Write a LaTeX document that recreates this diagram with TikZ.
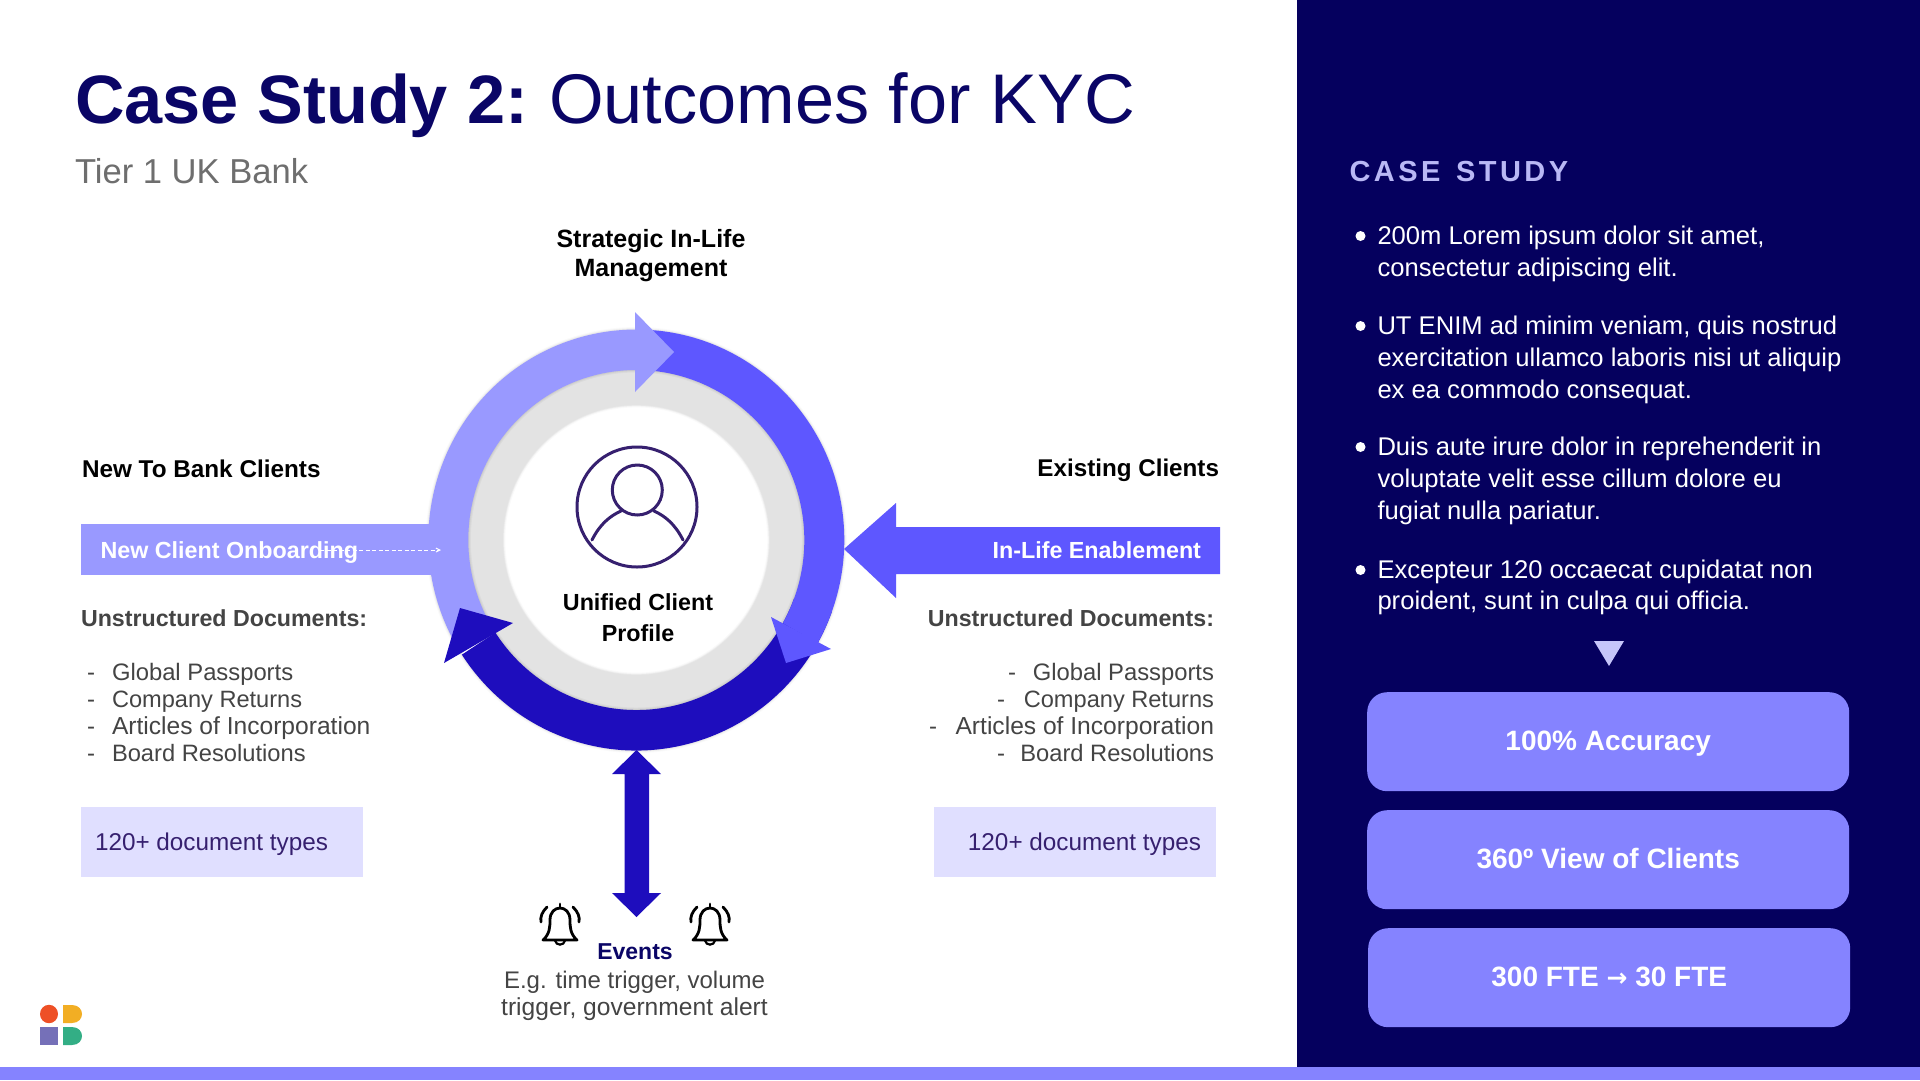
\documentclass[tikz,border=0pt]{standalone}
\usepackage{fontspec}
\setmainfont{Liberation Sans}
\newfontfamily\arrowfont{DejaVu Sans}
\usetikzlibrary{arrows.meta,calc}
\definecolor{navy}{HTML}{05005E}
\definecolor{titlec}{HTML}{0A0566}
\definecolor{lightp}{HTML}{9999FF}
\definecolor{midp}{HTML}{5E57FF}
\definecolor{darkp}{HTML}{1E0DBD}
\definecolor{boxp}{HTML}{8583FF}
\definecolor{pale}{HTML}{E0DFFF}
\definecolor{greyt}{HTML}{444444}
\definecolor{subt}{HTML}{6E6E6E}
\definecolor{icon}{HTML}{36206F}
\definecolor{ringg}{HTML}{E3E3E3}
\definecolor{headc}{HTML}{B9B8F5}
\definecolor{tri}{HTML}{C6C5FA}
\definecolor{logor}{HTML}{EE5026}
\definecolor{logoy}{HTML}{F2AE24}
\definecolor{logop}{HTML}{7570B8}
\definecolor{logog}{HTML}{33AE85}
\tikzset{
  x=1pt,y=-1pt,
  lbl/.style={inner sep=0pt,outer sep=0pt,anchor=base west,font=\fontsize{#1}{#1}\selectfont},
  lblr/.style={inner sep=0pt,outer sep=0pt,anchor=base east,font=\fontsize{#1}{#1}\selectfont},
  lblc/.style={inner sep=0pt,outer sep=0pt,anchor=base,font=\fontsize{#1}{#1}\selectfont},
  blbl/.style={inner sep=0pt,outer sep=0pt,anchor=base west,font=\fontsize{#1}{#1}\selectfont\bfseries},
  blblr/.style={inner sep=0pt,outer sep=0pt,anchor=base east,font=\fontsize{#1}{#1}\selectfont\bfseries},
  blblc/.style={inner sep=0pt,outer sep=0pt,anchor=base,font=\fontsize{#1}{#1}\selectfont\bfseries},
  kpi/.style={fill=boxp,rounded corners=20pt,minimum width=482pt,minimum height=99pt,inner sep=0pt,text=white,text height=17pt,text depth=0pt,font=\fontsize{28}{28}\selectfont\bfseries},
  docbox/.style={fill=pale,inner sep=0pt,minimum width=282pt,minimum height=70pt},
  bellline/.style={line width=2.8pt,line cap=round,line join=round,draw=black},
  iconline/.style={line width=3pt,draw=icon,line cap=round}
}
% ring segment in the ring scope: outer radius 208, inner radius 168
\newcommand{\ringseg}[3]{\fill[#3] (#1:208) arc[start angle=#1,end angle=#2,radius=208] -- (#2:168) arc[start angle=#2,end angle=#1,radius=168] -- cycle;}
\newcommand{\bellicon}[1]{%
\begin{scope}[shift={(#1,0)}]
 \draw[bellline] (-17,940) .. controls (-10,934) and (-10,926) .. (-10,920) .. controls (-10,912) and (-5,908) .. (0,908) .. controls (5,908) and (10,912) .. (10,920) .. controls (10,926) and (10,934) .. (17,940) -- cycle;
 \draw[bellline] (0,908) -- (0,904);
 \draw[line width=2.2pt,line cap=round] (-5,940.5) .. controls (-4,946) and (4,946) .. (5,940.5);
 \draw[bellline] (-13,907) .. controls (-18,912) and (-20,917) .. (-19,922);
 \draw[bellline] (13,907) .. controls (18,912) and (20,917) .. (19,922);
\end{scope}}
\begin{document}
\begin{tikzpicture}
\useasboundingbox (0,0) rectangle (1920,1080);
\fill[white] (0,0) rectangle (1920,1080);
\fill[navy] (1297,0) rectangle (1920,1080);
\fill[boxp] (0,1067) rectangle (1920,1080);
% title
\node[lbl=70.3,text=titlec] (title) at (75,123) {{\fontsize{68.5}{70}\selectfont\bfseries Case Study 2:} \hspace{-5pt}Outcomes for KYC};
\node[lbl=34.6,text=subt] (sub) at (75,183) {Tier 1 UK Bank};
\node[text=black,align=center,inner sep=0pt,font=\fontsize{25}{29}\selectfont\bfseries,anchor=north] (strat) at (651,229.5) {Strategic In-Life\\Management};
% ring
\begin{scope}[shift={(636.3,540)},yscale=1.012]
\foreach \w/\o in {5/.02,3/.03,1.5/.04}{
 \draw[black,opacity=\o,line width=\w pt] (0,0) circle[radius=208];
 \draw[black,opacity=\o,line width=\w pt] (0,0) circle[radius=133.5];
}
\fill[ringg,even odd rule] (0,0) circle[radius=170] circle[radius=133.5];
\foreach \w/\o in {5/.03,3/.03,1.5/.04}{
 \draw[black,opacity=\o,line width=\w pt] (0,0) circle[radius=168];
}
\ringseg{20}{147}{darkp}
\ringseg{-90}{29.3}{midp}
\end{scope}
\fill[midp] (771,617) -- (831,649) -- (786,663) -- cycle;
\begin{scope}[shift={(636.3,540)},yscale=1.012]
\ringseg{147.5}{270}{lightp}
\end{scope}
\fill[lightp] (635,312) -- (674,352) -- (635,392) -- cycle;
\fill[darkp] (444,663) -- (460,608) -- (513,623) -- cycle;
% side bars
\fill[lightp] (81,524) rectangle (440,575);
\fill[midp] (844,549) -- (896,503) -- (896,527) -- (1220,527) -- (1220,574) -- (896,574) -- (896,598) -- cycle;
% double arrow
\fill[darkp] (636.5,750) -- (661,774) -- (649,774) -- (649,893) -- (661,893) -- (636.5,917) -- (612,893) -- (624.5,893) -- (624.5,774) -- (612,774) -- cycle;
% person icon
\draw[iconline] (637,507) circle[radius=60];
\draw[iconline] (637.3,490) circle[radius=25];
\draw[iconline] (592,540) .. controls (600,524) and (610,516) .. (621,511);
\draw[iconline] (683,540) .. controls (675,524) and (665,516) .. (654,511);
\node[blblc=23.3,text=black] (ucp1) at (638,610) {Unified Client};
\node[blblc=23.3,text=black] (ucp2) at (638,641) {Profile};
% left column
\node[blbl=24.3,text=black] (ntb) at (82,477) {New To Bank Clients};
\node[blbl=23.3,text=white] (nco) at (100.5,558) {New Client Onboarding};
\coordinate (dashS) at (320,550);
\coordinate (dashE) at (441,550);
\draw[white,line width=1pt,dash pattern=on 4pt off 2.5pt,-{Straight Barb[length=4pt,width=4pt]}] (dashS) -- (dashE);
\node[blbl=23.2,text=greyt] (udl) at (81,626) {Unstructured Documents:};
\foreach \n/\yy/\sz/\t in {a/680/23.8/Global Passports,b/707/23.6/Company Returns,c/734/24.6/Articles of Incorporation,d/761/23.7/Board Resolutions}{
 \node[lbl=24,text=greyt] (ld\n) at (87,\yy) {-};
 \node[lbl=\sz,text=greyt] (lt\n) at (112,\yy) {\t};
}
\node[docbox,anchor=north west] (lbox) at (81,807) {};
\node[lbl=24.3,text=icon] (lboxt) at (95,850) {120+ document types};
% right column
\node[blblr=24.2,text=black] (exc) at (1219,476) {Existing Clients};
\node[blblr=23.3,text=white] (ile) at (1201,558) {In-Life Enablement};
\node[blblr=23.2,text=greyt] (udr) at (1214,626) {Unstructured Documents:};
\foreach \n/\yy/\dx/\sz/\t in {a/680/1008/23.8/Global Passports,b/707/997/23.6/Company Returns,c/734/929/24.6/Articles of Incorporation,d/761/997/23.7/Board Resolutions}{
 \node[lbl=24,text=greyt] (rd\n) at (\dx,\yy) {-};
 \node[lblr=\sz,text=greyt] (rt\n) at (1214,\yy) {\t};
}
\node[docbox,anchor=north west] (rbox) at (933.5,807) {};
\node[lblr=24.3,text=icon] (rboxt) at (1201,850) {120+ document types};
% events
\bellicon{560}
\bellicon{710}
\node[blblc=23,text=titlec] (ev) at (635,959) {Events};
\node[lblc=24,text=greyt] (ev1) at (634.5,988) {E.g. time trigger, volume};
\node[lblc=24.6,text=greyt] (ev2) at (634.5,1015) {trigger, government alert};
% logo
\fill[logor] (49,1014) ellipse[x radius=9,y radius=9.2];
\fill[logoy] (63,1005) -- (72,1005) .. controls (79,1005) and (82,1010) .. (82,1014) .. controls (82,1018) and (79,1023) .. (72,1023) -- (63,1023) -- cycle;
\fill[logop] (40,1027) rectangle (58,1045);
\fill[logog] (63,1027) -- (72,1027) .. controls (79,1027) and (82,1032) .. (82,1036) .. controls (82,1040) and (79,1045) .. (72,1045) -- (63,1045) -- cycle;
% right panel
\node[lbl=29,text=headc,font=\fontsize{29}{29}\selectfont\bfseries\addfontfeature{LetterSpace=12}] (cs) at (1349.5,181) {CASE\hspace{4pt} STUDY};
\foreach \n/\yy/\t in {a/244.7/200m Lorem ipsum dolor sit amet{,},b/276.5/consectetur adipiscing elit.,c/334/UT ENIM ad minim veniam{,} quis nostrud,d/366/exercitation ullamco laboris nisi ut aliquip,e/398/ex ea commodo consequat.,f/455/Duis aute irure dolor in reprehenderit in,g/487/voluptate velit esse cillum dolore eu,h/519/fugiat nulla pariatur.,i/578/Excepteur 120 occaecat cupidatat non,j/609.6/proident{,} sunt in culpa qui officia.}{
 \node[lbl=25.6,text=white] (p\n) at (1377.5,\yy) {\t};
}
\foreach \n/\yy in {1/236,2/326,3/447,4/570}{
 \fill[white] (1360.5,\yy) circle[radius=5] coordinate (bul\n);
}
\fill[tri] (1594,641) -- (1624,641) -- (1609,666) -- cycle;
\node[kpi,anchor=north west] (k1) at (1367,692) {100\% Accuracy};
\node[kpi,anchor=north west] (k2) at (1367,810) {360º View of Clients};
\node[kpi,anchor=north west] (k3) at (1368,928) {300 FTE {\arrowfont\fontsize{25}{25}\selectfont →} 30 FTE};
\end{tikzpicture}
\end{document}
